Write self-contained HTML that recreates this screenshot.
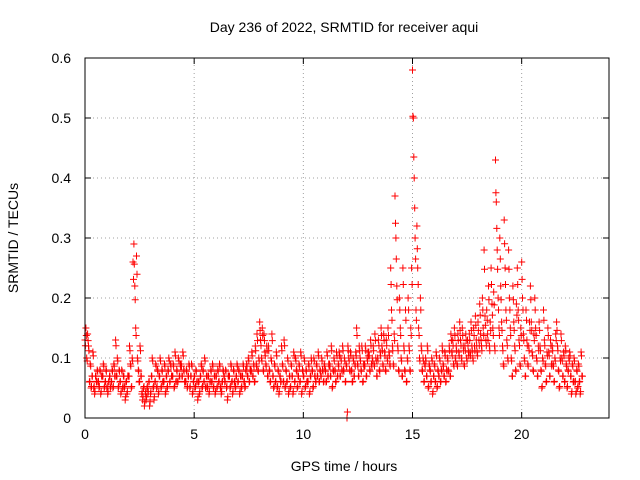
<!DOCTYPE html>
<html><head><meta charset="utf-8"><style>
body{margin:0;background:#fff;}
svg{display:block;font-family:"Liberation Sans",sans-serif;}
</style></head><body>
<svg id="chart" width="640" height="480">
<rect x="0" y="0" width="640" height="480" fill="#fff"/>
<text x="344" y="32" text-anchor="middle" font-size="14">Day 236 of 2022, SRMTID for receiver aqui</text>
<g id="grid"></g>
<g id="ticks"></g>
<g id="marks"></g>
<rect x="85" y="58" width="524" height="360" fill="none" stroke="#000" stroke-width="1"/>
<text x="344" y="471" text-anchor="middle" font-size="14">GPS time / hours</text>
<text transform="translate(18,238) rotate(-90)" text-anchor="middle" font-size="14">SRMTID / TECUs</text>
</svg>
<script>
const xTicks=[0,5,10,15,20];
const yTicks=[0,0.1,0.2,0.3,0.4,0.5,0.6];
const yTickLabels=["0","0.1","0.2","0.3","0.4","0.5","0.6"];
const binStarts=[0,0.2,0.4,0.6,0.8,1.0,1.2,1.4,1.6,1.8,2.0,2.2,2.4,2.6,2.8,3.0,3.2,3.4,3.6,3.8,4.0,4.2,4.4,4.6,4.8,5.0,5.2,5.4,5.6,5.8,6.0,6.2,6.4,6.6,6.8,7.0,7.2,7.4,7.6,7.8,8.0,8.2,8.4,8.6,8.8,9.0,9.2,9.4,9.6,9.8,10.0,10.2,10.4,10.6,10.8,11.0,11.2,11.4,11.6,11.8,12.0,12.2,12.4,12.6,12.8,13.0,13.2,13.4,13.6,13.8,14.0,14.2,14.4,14.6,14.8,15.0,15.2,15.4,15.6,15.8,16.0,16.2,16.4,16.6,16.8,17.0,17.2,17.4,17.6,17.8,18.0,18.2,18.4,18.6,18.8,19.0,19.2,19.4,19.6,19.8,20.0,20.2,20.4,20.6,20.8,21.0,21.2,21.4,21.6,21.8,22.0,22.2,22.4,22.6];
const binValues=[
[.13,.15,.10,.14,.12],[.06,.09,.05,.07,.11],[.05,.04,.07,.06,.08],[.06,.05,.08,.04,.07],[.07,.09,.05,.06,.08],
[.05,.04,.06,.07,.05],[.06,.08,.05,.09,.07],[.13,.07,.10,.05,.08],[.06,.04,.08,.05,.07],[.05,.03,.06,.04,.07],
[.07,.12,.09,.05,.10],[.26,.29,.22,.15,.27],[.10,.08,.06,.12,.07],[.04,.03,.05,.02,.04],[.03,.05,.04,.06,.02],
[.04,.07,.10,.05,.03],[.06,.09,.05,.08,.04],[.07,.10,.05,.08,.06],[.06,.09,.04,.07,.05],[.08,.10,.06,.09,.07],
[.07,.09,.05,.11,.06],[.08,.06,.10,.07,.09],[.09,.07,.11,.08,.06],[.06,.08,.05,.07,.09],[.05,.07,.09,.04,.06],
[.07,.05,.08,.06,.03],[.06,.04,.07,.09,.05],[.08,.06,.10,.05,.07],[.05,.07,.04,.06,.08],[.06,.09,.05,.07,.04],
[.07,.05,.08,.06,.09],[.05,.04,.06,.08,.07],[.06,.08,.05,.03,.07],[.07,.05,.09,.06,.04],[.08,.06,.05,.07,.09],
[.06,.08,.04,.07,.05],[.07,.09,.06,.05,.08],[.09,.07,.10,.06,.08],[.08,.11,.07,.09,.06],[.12,.09,.14,.08,.10],
[.16,.13,.10,.15,.08],[.14,.11,.09,.12,.07],[.12,.08,.06,.10,.14],[.07,.05,.09,.06,.11],[.05,.08,.04,.07,.06],
[.12,.09,.06,.13,.05],[.08,.06,.10,.04,.07],[.05,.09,.07,.04,.11],[.06,.10,.08,.05,.07],[.09,.06,.11,.04,.08],
[.07,.10,.05,.08,.06],[.06,.09,.04,.07,.10],[.08,.05,.10,.07,.06],[.09,.07,.11,.06,.08],[.07,.10,.08,.06,.09],
[.08,.06,.11,.07,.09],[.09,.07,.12,.05,.08],[.10,.08,.06,.11,.07],[.09,.11,.07,.10,.08],[.12,.08,.10,.06,.09],
[.00,.12,.10,.08,.11],[.08,.06,.10,.07,.09],[.11,.15,.09,.07,.12],[.10,.08,.12,.06,.09],[.09,.12,.07,.10,.11],
[.11,.08,.13,.09,.10],[.12,.09,.14,.10,.07],[.10,.13,.08,.11,.15],[.12,.09,.14,.11,.08],[.13,.10,.15,.11,.09],
[.25,.18,.12,.09,.14],[.37,.30,.22,.12,.08],[.20,.15,.10,.07,.25],[.12,.08,.18,.06,.10],[.20,.12,.08,.15,.25],
[.58,.50,.40,.30,.18],[.32,.25,.15,.10,.20],[.12,.08,.10,.06,.09],[.10,.07,.12,.05,.09],[.08,.06,.10,.04,.07],
[.09,.06,.11,.05,.08],[.07,.10,.06,.08,.12],[.09,.07,.11,.06,.08],[.10,.08,.12,.07,.14],[.11,.13,.09,.15,.10],
[.12,.09,.14,.11,.16],[.13,.10,.15,.12,.09],[.12,.14,.10,.13,.11],[.14,.11,.16,.12,.10],[.15,.12,.17,.13,.11],
[.16,.13,.19,.14,.12],[.20,.15,.28,.17,.13],[.18,.14,.22,.12,.16],[.25,.19,.15,.21,.12],[.43,.36,.28,.20,.15],
[.30,.22,.16,.12,.09],[.33,.25,.18,.13,.10],[.28,.20,.15,.10,.07],[.22,.16,.12,.08,.19],[.25,.18,.13,.09,.15],
[.26,.20,.14,.10,.07],[.18,.13,.09,.12,.16],[.22,.16,.11,.08,.14],[.20,.15,.10,.07,.12],[.16,.12,.08,.05,.10],
[.18,.13,.09,.06,.11],[.15,.11,.07,.13,.09],[.12,.09,.06,.10,.14],[.16,.12,.08,.05,.10],[.14,.10,.07,.11,.06],
[.12,.09,.05,.08,.10],[.11,.07,.04,.09,.06],[.10,.06,.04,.08,.05],[.09,.06,.04,.11,.07]];
const X0=85,X1=609,Y0=418,Y1=58;
function xs(v){return X0+v*(X1-X0)/24;}
function ys(v){return Y0-v*(Y0-Y1)/0.6;}
const NS="http://www.w3.org/2000/svg";
function mk(tag,attrs,parent){const e=document.createElementNS(NS,tag);for(const k in attrs)e.setAttribute(k,attrs[k]);parent.appendChild(e);return e;}
const grid=document.getElementById('grid'),ticks=document.getElementById('ticks'),marks=document.getElementById('marks');
xTicks.forEach(t=>{
  const x=xs(t);
  if(t>0){const l=mk('line',{x1:x,y1:Y0,x2:x,y2:Y1,stroke:'#a0a0a0','stroke-dasharray':'1,3'},grid);
  
  }
  mk('line',{x1:x,y1:Y0,x2:x,y2:Y0-6,stroke:'#000'},ticks);
  mk('line',{x1:x,y1:Y1,x2:x,y2:Y1+6,stroke:'#000'},ticks);
  const tx=mk('text',{x:x,y:Y0+21,'text-anchor':'middle','font-size':'14'},ticks);
  tx.textContent=String(t);
  
  
});
yTicks.forEach((t,i)=>{
  const y=ys(t);
  if(i>0&&i<yTicks.length-1){const l=mk('line',{x1:X0,y1:y,x2:X1,y2:y,stroke:'#a0a0a0','stroke-dasharray':'1,3'},grid);
  
  }
  mk('line',{x1:X0,y1:y,x2:X0+6,y2:y,stroke:'#000'},ticks);
  mk('line',{x1:X1,y1:y,x2:X1-6,y2:y,stroke:'#000'},ticks);
  const tx=mk('text',{x:71,y:y+5,'text-anchor':'end','font-size':'14'},ticks);
  tx.textContent=yTickLabels[i];
  
  
});
let d='';
binStarts.forEach((t,bi)=>{
  binValues[bi].forEach((v,j)=>{
    const x=xs(t+j*0.04),y=ys(v);
    d+=`M${(x-3.5).toFixed(1)} ${y.toFixed(1)}h7M${x.toFixed(1)} ${(y-3.5).toFixed(1)}v7`;
    const x2=xs(t+j*0.04+0.02),y2=ys(v*0.85+0.01);
    d+=`M${(x2-3.5).toFixed(1)} ${y2.toFixed(1)}h7M${x2.toFixed(1)} ${(y2-3.5).toFixed(1)}v7`;
  });
});
const p=mk('path',{d:d,stroke:'#ff0000','stroke-width':'1',fill:'none'},marks);


</script>
</body></html>
